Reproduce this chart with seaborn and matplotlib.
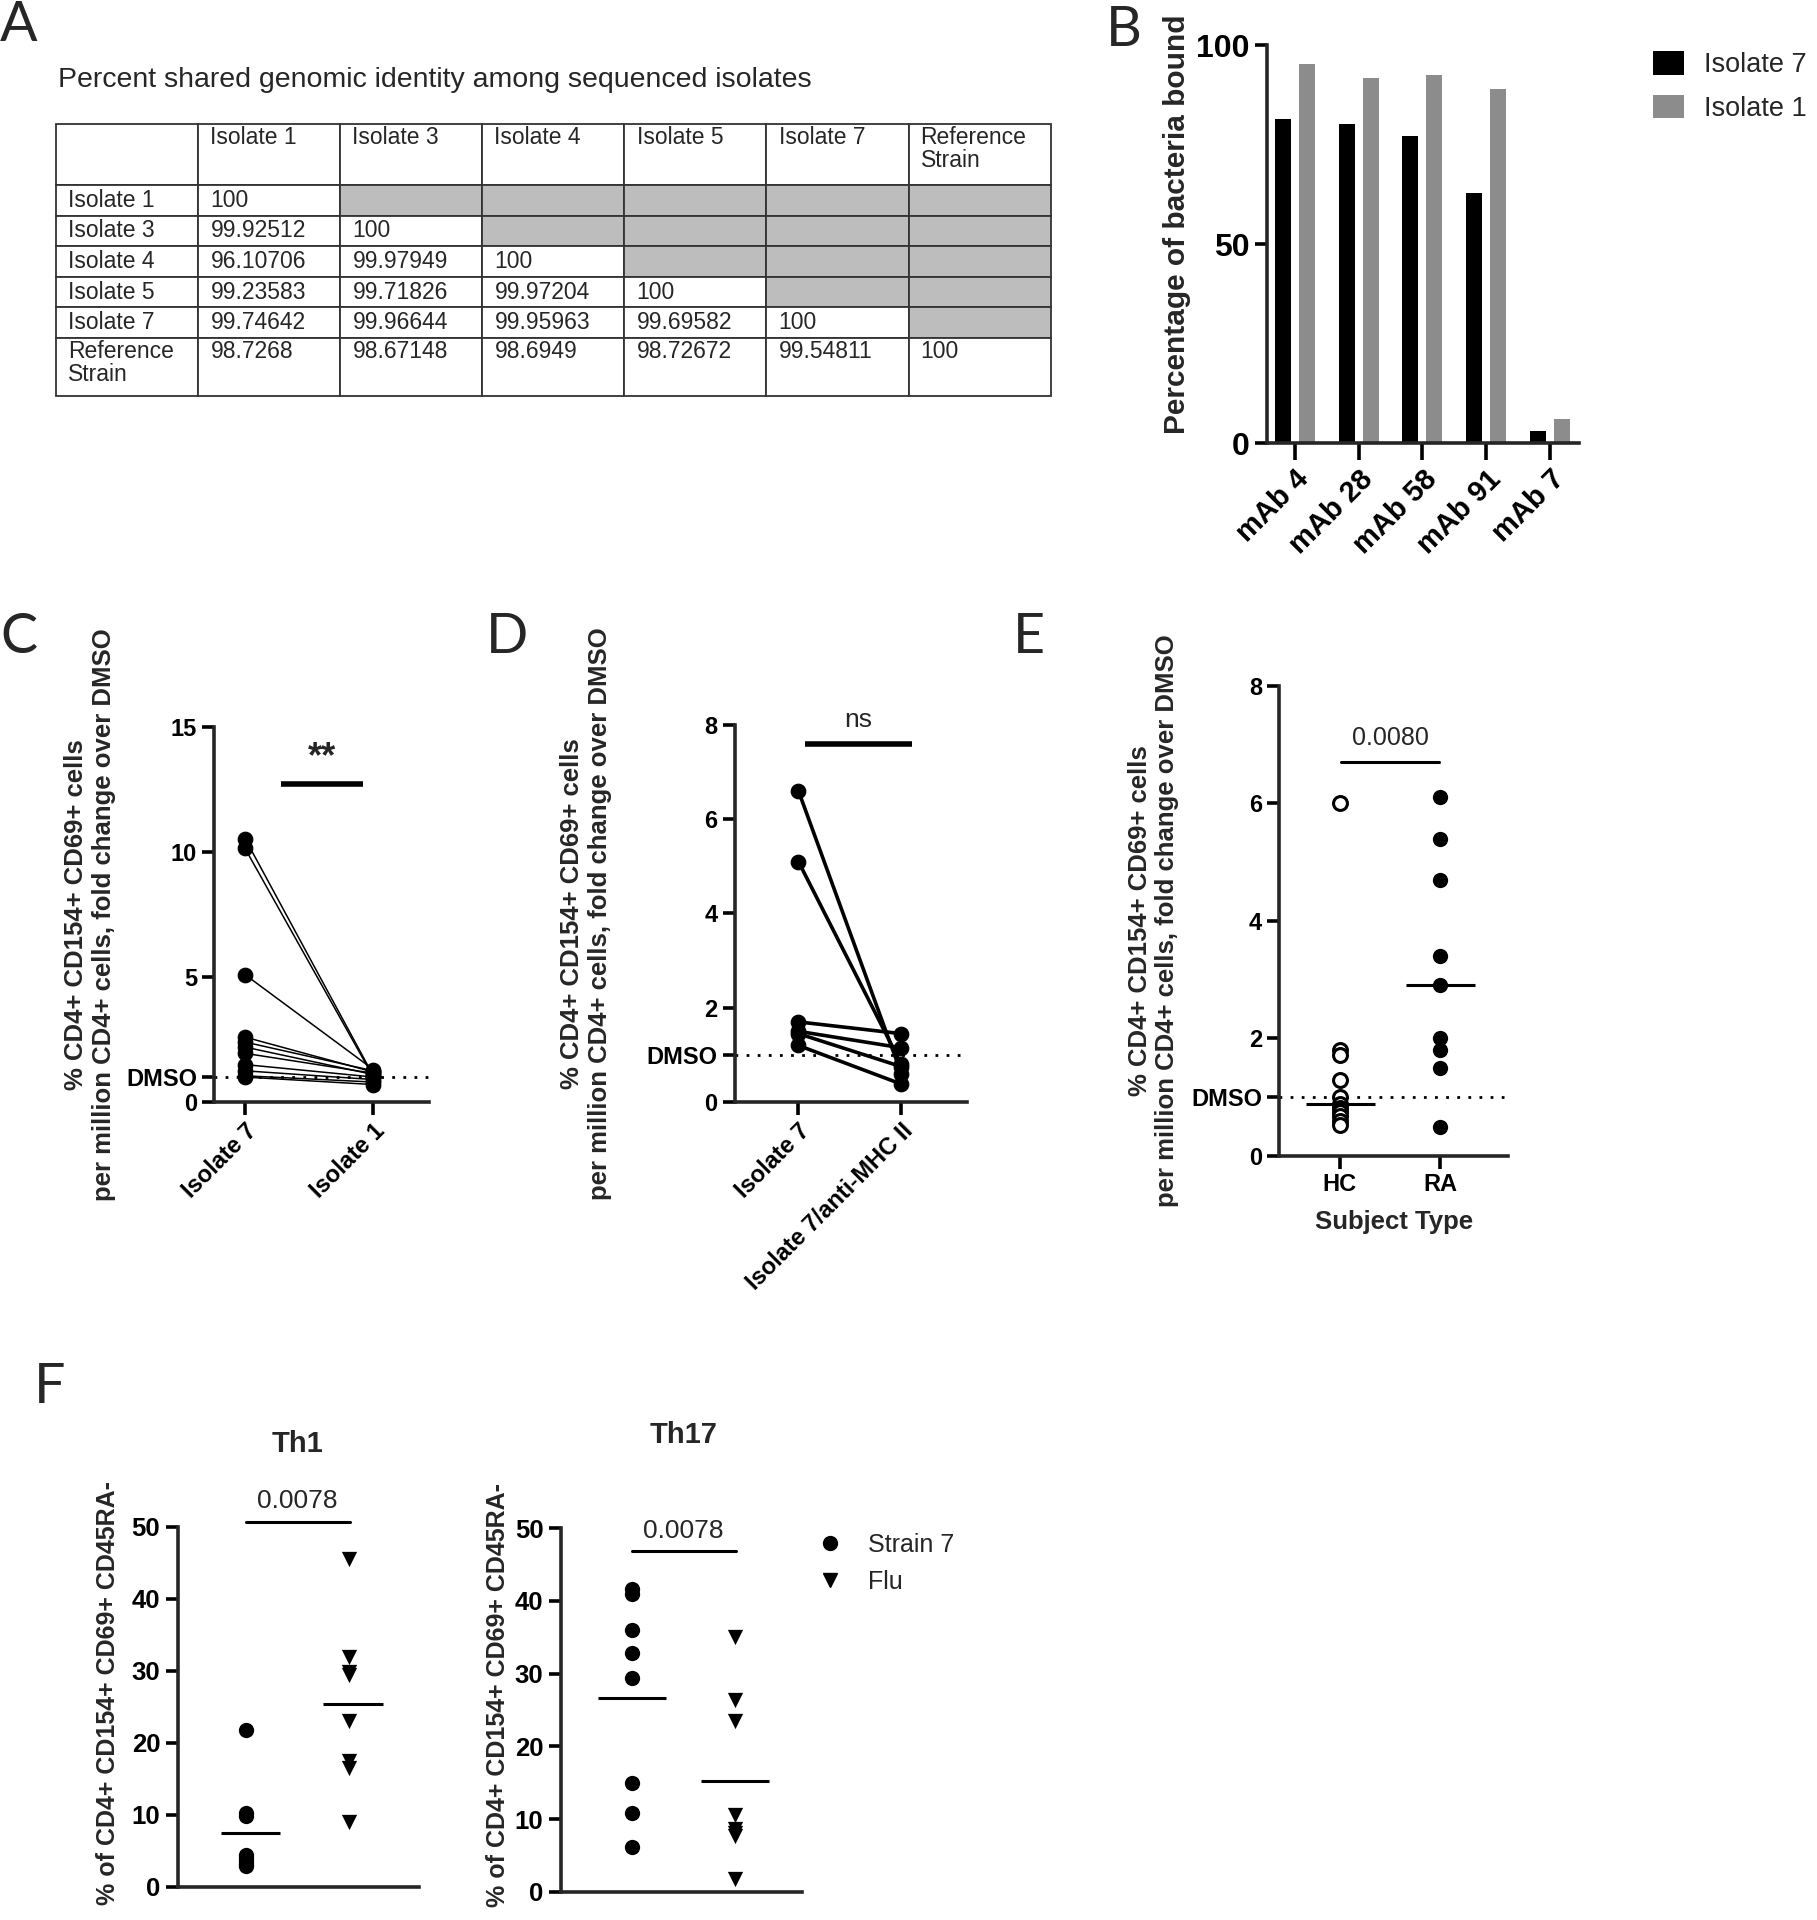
import numpy as np
import pandas as pd
import matplotlib
matplotlib.use("Agg")
import matplotlib.pyplot as plt
import seaborn as sns
from matplotlib.patches import Rectangle
from matplotlib.lines import Line2D

# --- A: genomic identity table ---
iso_names = ["Isolate 1", "Isolate 3", "Isolate 4", "Isolate 5", "Isolate 7", "Reference\nStrain"]
identity = [
    ["100"],
    ["99.92512", "100"],
    ["96.10706", "99.97949", "100"],
    ["99.23583", "99.71826", "99.97204", "100"],
    ["99.74642", "99.96644", "99.95963", "99.69582", "100"],
    ["98.7268", "98.67148", "98.6949", "98.72672", "99.54811", "100"],
]

# --- B: mAb binding ---
mabs = ["mAb 4", "mAb 28", "mAb 58", "mAb 91", "mAb 7"]
bound_iso7 = [81.6, 80.3, 77.1, 63.0, 3.0]
bound_iso1 = [95.2, 91.9, 92.6, 89.1, 6.1]

# --- C: paired isolate 7 vs isolate 1 ---
c_groups = ["Isolate 7", "Isolate 1"]
c_iso7 = [10.55, 10.15, 5.1, 2.6, 2.4, 2.2, 1.95, 1.5, 1.25, 1.05, 1.0]
c_iso1 = [1.05, 1.0, 1.3, 1.2, 1.25, 1.1, 1.15, 1.0, 0.9, 0.8, 0.7]

# --- D: paired isolate 7 vs anti-MHC II ---
d_groups = ["Isolate 7", "Isolate 7/anti-MHC II"]
d_iso7 = [6.6, 5.1, 1.7, 1.5, 1.45, 1.2]
d_mhc = [0.6, 0.8, 1.45, 1.15, 0.75, 0.38]

# --- E: HC vs RA ---
e_groups = ["HC", "RA"]
e_hc = [6.0, 1.8, 1.72, 1.3, 1.0, 0.88, 0.82, 0.75, 0.68, 0.6, 0.52]
e_ra = [6.1, 5.4, 4.7, 3.4, 2.9, 2.0, 1.8, 1.5, 0.5]

# --- F: Th1 / Th17 ---
f_groups = ["Strain 7", "Flu"]
th1_strain7 = [21.8, 10.3, 9.9, 4.4, 4.0, 3.6, 3.2, 2.9]
th1_flu = [45.6, 32.0, 29.9, 29.4, 23.1, 17.5, 16.5, 9.0]
th17_strain7 = [41.6, 41.0, 36.0, 32.8, 29.4, 14.9, 10.9, 6.1]
th17_flu = [35.0, 26.4, 23.5, 10.5, 8.6, 8.1, 7.7, 1.7]

sns.set_style("ticks")
plt.rcParams["font.family"] = ["Liberation Sans", "DejaVu Sans"]
W, H = 1484, 1568  # layout grid (reference shrunk size)
YLAB = "% CD4+ CD154+ CD69+ cells\nper million CD4+ cells, fold change over DMSO"


def rect(left, right, top, bottom):
    return [left / W, 1 - bottom / H, (right - left) / W, (bottom - top) / H]


def style_axes(ax, lw=2.6, size=17):
    sns.despine(ax=ax)
    for s in ["left", "bottom"]:
        ax.spines[s].set_linewidth(lw)
    ax.tick_params(width=lw, length=9, labelsize=size, colors="black")
    for lab in ax.get_yticklabels():
        lab.set_fontweight("bold")


def center_ylabel(ax, text, x, size=18.5, y=0.5):
    ax.set_ylabel(text, fontsize=size, fontweight="bold", linespacing=1.2)
    ax.yaxis.label.set_va("center")
    ax.yaxis.set_label_coords(x, y)


fig = plt.figure(figsize=(18.17, 19.2), dpi=100)

# panel letters
for lab, x, y in [("A", 0, 0), ("B", 903, 4), ("C", 0, 500), ("D", 397, 500), ("E", 827, 500), ("F", 28, 1112)]:
    fig.text(x / W, 1 - y / H, lab, fontsize=40, family=["Lato", "DejaVu Sans"], va="top")

# ---------------- A ----------------
fig.text(47 / W, 1 - 65 / H, "Percent shared genomic identity among sequenced isolates",
         fontsize=20.5, va="center")
tax = fig.add_axes(rect(46, 858, 101, 323))
row_h = [2, 1, 1, 1, 1, 1, 1.88]
tops = np.concatenate([[0], np.cumsum(row_h)])
tax.set_xlim(0, 7)
tax.set_ylim(tops[-1], 0)
tax.axis("off")
header = [""] + iso_names
for r in range(7):
    for c in range(7):
        if r == 0:
            txt = header[c]
            shaded = False
        elif c == 0:
            txt = iso_names[r - 1]
            shaded = False
        else:
            vals = identity[r - 1]
            shaded = c - 1 >= len(vals)
            txt = "" if shaded else vals[c - 1]
        tax.add_patch(Rectangle((c, tops[r]), 1, row_h[r],
                                facecolor="#bdbdbd" if shaded else "white",
                                edgecolor="#333333", lw=1.3, clip_on=False))
        if txt:
            if row_h[r] > 1:
                tax.text(c + 0.085, tops[r] + 0.08, txt, ha="left", va="top", fontsize=16.5, linespacing=1.0)
            else:
                tax.text(c + 0.085, tops[r] + 0.5, txt, ha="left", va="center", fontsize=16.5)

# ---------------- B ----------------
axb = fig.add_axes(rect(1035, 1290, 37, 362))
dfb = pd.DataFrame({
    "mAb": mabs * 2,
    "isolate": ["Isolate 7"] * len(mabs) + ["Isolate 1"] * len(mabs),
    "value": bound_iso7 + bound_iso1,
})
sns.barplot(data=dfb, x="mAb", y="value", hue="isolate", hue_order=["Isolate 7", "Isolate 1"],
            palette=["black", "#8c8c8c"], width=0.75, gap=0.33, linewidth=0, ax=axb)
axb.set_ylim(0, 100)
axb.set_xlim(-0.43, 4.46)
axb.set_yticks([0, 50, 100])
axb.set_xlabel("")
style_axes(axb, lw=2.6, size=23)
axb.set_xticks(range(len(mabs)), mabs, rotation=45, ha="right", rotation_mode="anchor",
               fontweight="bold", fontsize=21)
axb.tick_params(axis="x", length=12)
center_ylabel(axb, "Percentage of bacteria bound", -0.29, size=21.5, y=0.55)
h, l = axb.get_legend_handles_labels()
axb.legend(h, l, loc="upper left", bbox_to_anchor=(1350 / W, 1 - 42 / H), bbox_transform=fig.transFigure,
           frameon=False, fontsize=19.5, handlelength=1.15, handleheight=0.95,
           handletextpad=0.75, labelspacing=0.6, borderpad=0, borderaxespad=0)


def paired(ax, groups, a, b, lw, s):
    n = len(a)
    df = pd.DataFrame({
        "subject": list(range(n)) * 2,
        "pos": [0] * n + [1] * n,
        "value": a + b,
    })
    sns.lineplot(data=df, x="pos", y="value", units="subject", estimator=None,
                 color="black", lw=lw, ax=ax, legend=False)
    sns.scatterplot(data=df, x="pos", y="value", color="black", s=s, edgecolor="black",
                    ax=ax, legend=False, zorder=3, clip_on=False)
    ax.set_xlabel("")


# ---------------- C ----------------
axc = fig.add_axes(rect(175, 350, 594, 900))
paired(axc, c_groups, c_iso7, c_iso1, 1.1, 110)
axc.axhline(1, ls=(0, (1, 3)), lw=2, color="black", zorder=1)
axc.set_ylim(0, 15)
axc.set_xlim(-0.24, 1.43)
axc.set_yticks([0, 1, 5, 10, 15], ["0", "DMSO", "5", "10", "15"])
axc.set_xticks([0, 1], c_groups, rotation=45, ha="right", rotation_mode="anchor", fontweight="bold")
style_axes(axc)
axc.plot([0.28, 0.92], [12.75, 12.75], color="black", lw=4, solid_capstyle="butt")
axc.text(0.6, 13.1, "**", ha="center", va="bottom", fontsize=26, fontweight="bold")
center_ylabel(axc, YLAB, -0.58)

# ---------------- D ----------------
axd = fig.add_axes(rect(600, 790, 592, 900))
paired(axd, d_groups, d_iso7, d_mhc, 2.6, 110)
axd.axhline(1, ls=(0, (1, 3)), lw=2, color="black", zorder=1)
axd.set_ylim(0, 8)
axd.set_xlim(-0.62, 1.64)
axd.set_yticks([0, 1, 2, 4, 6, 8], ["0", "DMSO", "2", "4", "6", "8"])
axd.set_xticks([0, 1], d_groups, rotation=45, ha="right", rotation_mode="anchor", fontweight="bold")
style_axes(axd)
axd.plot([0.06, 1.1], [7.6, 7.6], color="black", lw=4, solid_capstyle="butt")
axd.text(0.58, 7.85, "ns", ha="center", va="bottom", fontsize=19)
center_ylabel(axd, YLAB, -0.64)

# ---------------- E ----------------
axe = fig.add_axes(rect(1045, 1232, 560, 944))
dfe = pd.DataFrame({"group": ["HC"] * len(e_hc) + ["RA"] * len(e_ra), "value": e_hc + e_ra})
sns.stripplot(data=dfe[dfe.group == "HC"], x="group", y="value", order=e_groups, jitter=False,
              color="white", edgecolor="black", linewidth=2.2, size=10, ax=axe, zorder=3)
sns.stripplot(data=dfe[dfe.group == "RA"], x="group", y="value", order=e_groups, jitter=False,
              color="black", size=11, ax=axe, zorder=3)
for i, g in enumerate(e_groups):
    med = np.median(dfe.loc[dfe.group == g, "value"])
    axe.hlines(med, i - 0.34, i + 0.35, color="black", lw=2.2, zorder=4)
axe.axhline(1, ls=(0, (1, 3)), lw=2, color="black", zorder=1)
axe.set_ylim(0, 8)
axe.set_xlim(-0.6, 1.68)
axe.set_yticks([0, 1, 2, 4, 6, 8], ["0", "DMSO", "2", "4", "6", "8"])
axe.set_xticks([0, 1], e_groups, fontweight="bold")
style_axes(axe)
axe.set_xlabel("Subject Type", fontsize=18.5, fontweight="bold", labelpad=10)
axe.plot([0.01, 0.99], [6.7, 6.7], color="black", lw=2.2)
axe.text(0.5, 6.9, "0.0080", ha="center", va="bottom", fontsize=18)
center_ylabel(axe, YLAB, -0.55)


# ---------------- F ----------------
def th_panel(ax, strain7, flu, title, title_xy, bar_y, text_y, mean_span):
    df = pd.DataFrame({"group": ["Strain 7"] * len(strain7) + ["Flu"] * len(flu), "value": strain7 + flu})
    sns.stripplot(data=df[df.group == "Strain 7"], x="group", y="value", order=f_groups, jitter=False,
                  color="black", marker="o", size=11, ax=ax, zorder=3)
    sns.stripplot(data=df[df.group == "Flu"], x="group", y="value", order=f_groups, jitter=False,
                  color="black", marker="v", size=11, ax=ax, zorder=3)
    for i, g in enumerate(f_groups):
        m = df.loc[df.group == g, "value"].mean()
        ax.hlines(m, i + mean_span[0], i + mean_span[1], color="black", lw=2.2, zorder=4)
    ax.set_ylim(0, 50)
    ax.set_yticks([0, 10, 20, 30, 40, 50])
    ax.set_xticks([])
    ax.set_xlabel("")
    style_axes(ax, size=18.5)
    ax.plot([0.0, 1.01], [bar_y, bar_y], color="black", lw=2.2, clip_on=False)
    ax.text(0.5, text_y, "0.0078", ha="center", va="bottom", fontsize=19)
    ax.text(title_xy[0], title_xy[1], title, transform=ax.transAxes, ha="center", va="center",
            fontsize=21, fontweight="bold")


ax1 = fig.add_axes(rect(145, 342, 1247, 1541))
th_panel(ax1, th1_strain7, th1_flu, "Th1", (0.497, 1.23), 50.7, 52.0, (-0.25, 0.33))
ax1.set_xlim(-0.67, 1.68)
center_ylabel(ax1, "% of CD4+ CD154+ CD69+ CD45RA-", -0.29, size=18, y=0.54)

ax2 = fig.add_axes(rect(458, 655, 1248, 1545))
th_panel(ax2, th17_strain7, th17_flu, "Th17", (0.508, 1.255), 46.8, 48.0, (-0.33, 0.33))
ax2.set_xlim(-0.69, 1.65)
center_ylabel(ax2, "% of CD4+ CD154+ CD69+ CD45RA-", -0.26, size=18, y=0.54)
handles = [Line2D([], [], ls="", marker="o", color="black", markersize=10),
           Line2D([], [], ls="", marker="v", color="black", markersize=10)]
ax2.legend(handles, f_groups, loc="upper left", bbox_to_anchor=(668 / W, 1 - 1252 / H),
           bbox_transform=fig.transFigure, frameon=False, fontsize=18, handlelength=1.0,
           handletextpad=1.0, labelspacing=0.5, borderpad=0, borderaxespad=0)

fig.savefig("out.png", dpi=100)
